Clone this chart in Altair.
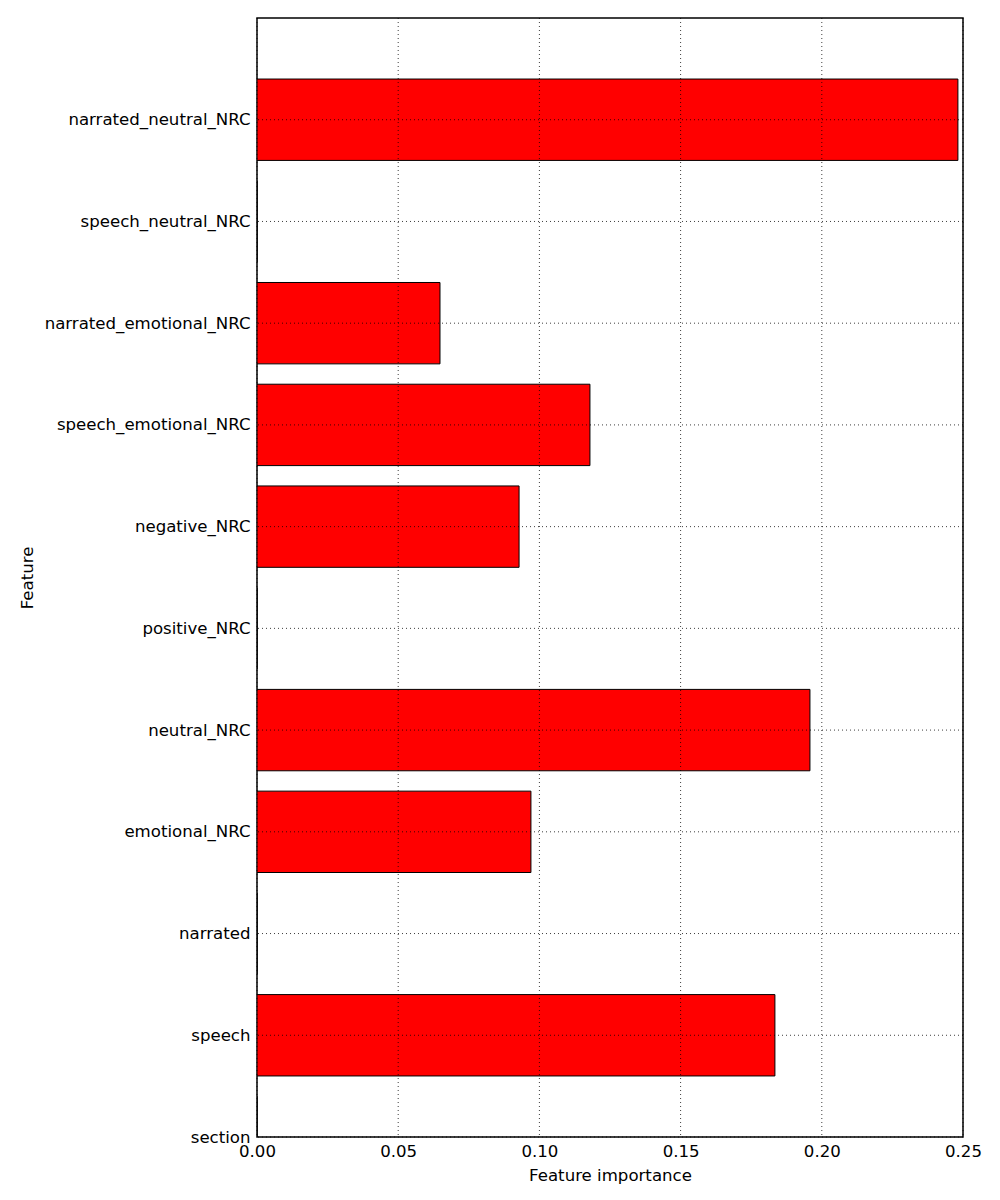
import json
import altair as alt
import pandas as pd

features = [
    "section", "speech", "narrated", "emotional_NRC", "neutral_NRC",
    "positive_NRC", "negative_NRC", "speech_emotional_NRC",
    "narrated_emotional_NRC", "speech_neutral_NRC", "narrated_neutral_NRC",
]
importance = [0.0, 0.1834, 0.0, 0.0970, 0.1958, 0.0, 0.0928, 0.1179, 0.0648, 0.0, 0.2482]
x_ticks = [0.0, 0.05, 0.10, 0.15, 0.20, 0.25]

df = pd.DataFrame({
    "feature": features,
    "idx": list(range(len(features))),
    "importance": importance,
})
vgrid = pd.DataFrame({"importance": x_ticks})
hgrid = pd.DataFrame({"lo": list(range(len(features)))})

label_expr = json.dumps(features) + "[datum.value]"
FONT = "DejaVu Sans"
FS = 16.6

xscale = alt.Scale(domain=[0, 0.25], nice=False, zero=True)
yscale = alt.Scale(domain=[0, 11], nice=False, zero=True)

bars = alt.Chart(df).transform_calculate(
    lo="datum.idx - 0.4", hi="datum.idx + 0.4"
).mark_bar(color="#ff0000", stroke="black", strokeWidth=1, clip=True).encode(
    x=alt.X("importance:Q", scale=xscale,
            axis=alt.Axis(values=x_ticks, format=".2f", title="Feature importance",
                          grid=False, domain=False, ticks=False, labelPadding=6,
                          labelFont=FONT, labelFontSize=FS, labelColor="black",
                          titleFont=FONT, titleFontSize=FS, titleFontWeight="normal",
                          titleColor="black", titlePadding=8, labelFlush=False)),
    x2=alt.X2(datum=0),
    y=alt.Y("lo:Q", scale=yscale,
            axis=alt.Axis(values=list(range(len(features))), labelExpr=label_expr,
                          title="Feature", grid=False, domain=False, ticks=False,
                          labelPadding=7, labelLimit=0, labelFont=FONT, labelFontSize=FS,
                          labelColor="black", titleFont=FONT, titleFontSize=FS,
                          titleFontWeight="normal", titleColor="black", titlePadding=22,
                          labelFlush=False)),
    y2="hi:Q",
)

grid_style = dict(color="black", strokeWidth=0.9, strokeDash=[1, 3], opacity=0.85)

vlines = alt.Chart(vgrid).mark_rule(**grid_style).encode(
    x=alt.X("importance:Q", scale=xscale)
)
hlines = alt.Chart(hgrid).mark_rule(**grid_style).encode(
    y=alt.Y("lo:Q", scale=yscale)
)

chart = alt.layer(bars, vlines, hlines).properties(
    width=706, height=1119,
    autosize=alt.AutoSizeParams(type="none"),
    padding={"left": 249, "top": 10, "right": 29, "bottom": 55},
).configure(
    background="white",
    view=alt.ViewConfig(stroke="black", strokeWidth=1.5),
)

chart.save("out.html", embed_options={"renderer": "svg", "actions": False})
